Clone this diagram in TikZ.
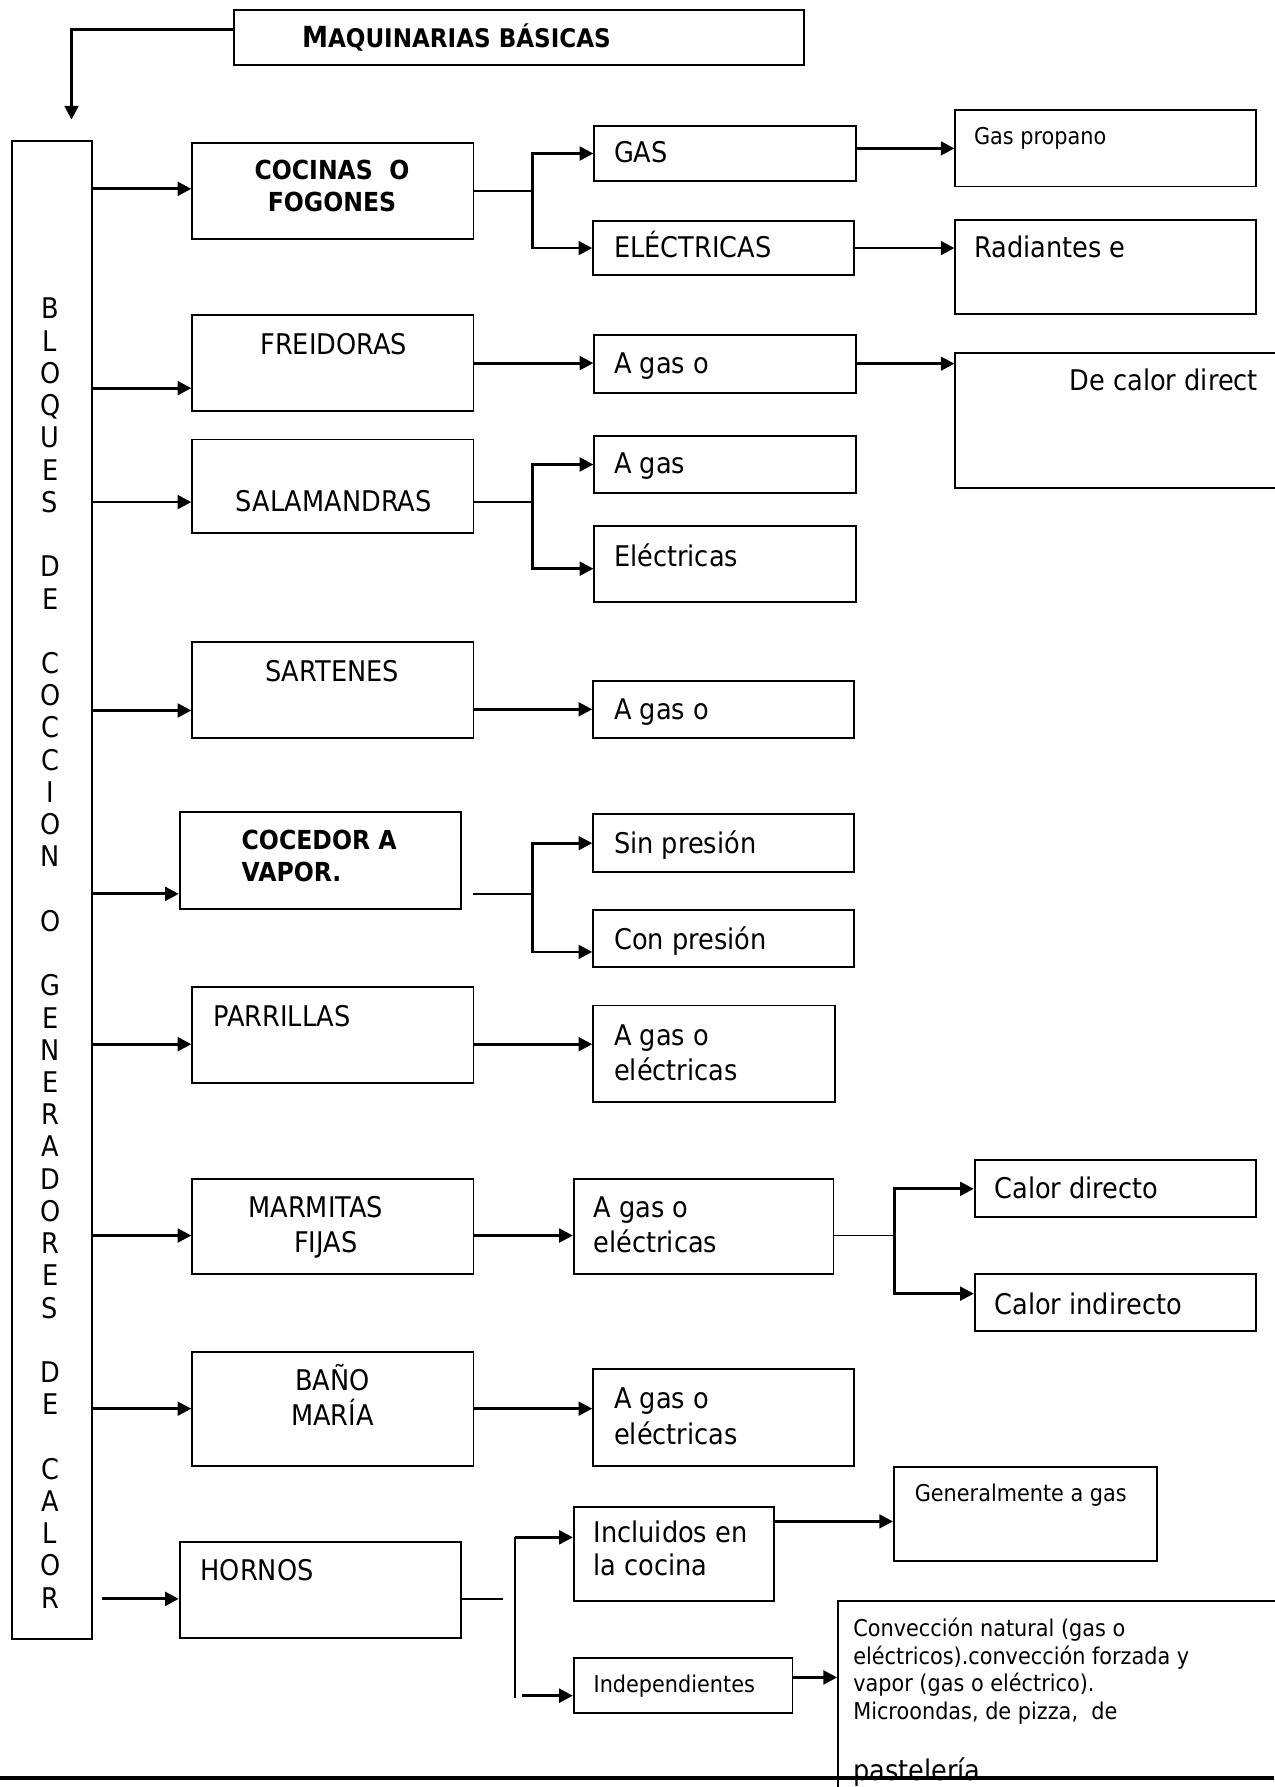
\documentclass[tikz,border=0pt]{standalone}
\usepackage{fontspec}
\setmainfont{DejaVu Sans}[FakeStretch=0.9]
\usetikzlibrary{positioning,arrows.meta,calc}

\begin{document}
\begin{tikzpicture}[
    x=1pt, y=-1pt,
    % boxes and their texts (base = baseline of the last line)
    box/.style={draw=black, line width=1.6pt, anchor=north west, inner sep=0pt},
    txt/.style={anchor=base west, inner sep=0pt, align=left, font=\fontsize{25}{31}\selectfont},
    ctxt/.style={txt, anchor=base, align=center},
    smalltxt/.style={txt, font=\fontsize{20.3}{24.5}\selectfont},
    boldtxt/.style={txt, font=\fontsize{23}{28}\selectfont\bfseries},
    % connectors
    arrow/.style={-{Triangle[length=12pt,width=12pt]}, line width=2.5pt},
    branch/.style={line width=1.5pt}
]

\path[use as bounding box, fill=white] (0,0) rectangle (1119,1569);

% Title and left block
\node[box, minimum width=500pt, minimum height=48pt] (title) at (205,8) {};
\node[txt, font=\bfseries\fontsize{25.5}{30}\selectfont] (titleT) at (265,42)
    {M\fontsize{22.5}{30}\selectfont AQUINARIAS BÁSICAS};
\node[box, minimum width=70pt, minimum height=1315pt] (bloqbox) at (10,123) {};
\node[txt, anchor=base, align=center, font=\fontsize{25}{28.3}\selectfont] (bloq) at (44,1412)
    {B\\L\\O\\Q\\U\\E\\S\\\mbox{}\\D\\E\\\mbox{}\\C\\O\\C\\C\\I\\O\\N\\\mbox{}\\O\\\mbox{}\\
     G\\E\\N\\E\\R\\A\\D\\O\\R\\E\\S\\\mbox{}\\D\\E\\\mbox{}\\C\\A\\L\\O\\R};

% Second column
\node[box, minimum width=247pt, minimum height=84pt] (cocinas) at (168,125) {};
\node[box, minimum width=247pt, minimum height=84pt] (freid) at (168,276) {};
\node[box, minimum width=247pt, minimum height=82pt] (salam) at (168,385) {};
\node[box, minimum width=247pt, minimum height=84pt] (sart) at (168,563) {};
\node[box, minimum width=247pt, minimum height=85pt] (coced) at (157,712) {};
\node[box, minimum width=247pt, minimum height=84pt] (parr) at (168,866) {};
\node[box, minimum width=247pt, minimum height=84pt] (marm) at (168,1034) {};
\node[box, minimum width=247pt, minimum height=100pt] (bano) at (168,1186) {};
\node[box, minimum width=247pt, minimum height=84pt] (hornos) at (157,1353) {};

\node[boldtxt, anchor=base, align=center] (cocinasT) at (291.5,186) {COCINAS\ \ O\\FOGONES};
\node[ctxt] (freidT) at (293,311) {FREIDORAS};
\node[ctxt] (salamT) at (293,449) {SALAMANDRAS};
\node[ctxt] (sartT) at (291.5,598) {SARTENES};
\node[boldtxt] (cocedT) at (212,774) {COCEDOR A\\VAPOR.};
\node[txt] (parrT) at (187,901) {PARRILLAS};
\node[txt] (marmT) at (218,1100) {MARMITAS\\\hspace*{40pt}FIJAS};
\node[ctxt] (banoT) at (292,1252) {BAÑO\\MARÍA};
\node[txt] (hornosT) at (176,1388) {HORNOS};

% Third column
\node[box, minimum width=230pt, minimum height=48pt] (gas) at (521,110) {};
\node[box, minimum width=229pt, minimum height=48pt] (elec) at (520,193) {};
\node[box, minimum width=230pt, minimum height=51pt] (freidG) at (521,293) {};
\node[box, minimum width=230pt, minimum height=50pt] (salamG) at (521,382) {};
\node[box, minimum width=230pt, minimum height=67pt] (salamE) at (521,461) {};
\node[box, minimum width=229pt, minimum height=50pt] (sartG) at (520,597) {};
\node[box, minimum width=229pt, minimum height=51pt] (sinp) at (520,714) {};
\node[box, minimum width=229pt, minimum height=50pt] (conp) at (520,798) {};
\node[box, minimum width=212pt, minimum height=85pt] (parrG) at (520,882) {};
\node[box, minimum width=228pt, minimum height=84pt] (marmG) at (503,1034) {};
\node[box, minimum width=229pt, minimum height=85pt] (banoG) at (520,1201) {};
\node[box, minimum width=176pt, minimum height=83pt] (incl) at (503,1322) {};
\node[box, minimum width=192pt, minimum height=48pt] (indep) at (503,1455) {};

\node[txt] (gasT) at (539,143) {GAS};
\node[txt] (elecT) at (539,226) {ELÉCTRICAS};
\node[txt] (freidGT) at (539,328) {A gas o};
\node[txt] (salamGT) at (539,416) {A gas};
\node[txt] (salamET) at (539,497) {Eléctricas};
\node[txt] (sartGT) at (539,632) {A gas o};
\node[txt] (sinpT) at (539,749) {Sin presión};
\node[txt] (conpT) at (539,834) {Con presión};
\node[txt] (parrGT) at (539,949) {A gas o\\eléctricas};
\node[txt] (marmGT) at (521,1100) {A gas o\\eléctricas};
\node[txt] (banoGT) at (539,1268) {A gas o\\eléctricas};
\node[txt, font=\fontsize{25}{29}\selectfont] (inclT) at (521,1383) {Incluidos en\\la cocina};
\node[smalltxt] (indepT) at (521,1486) {Independientes};

% Fourth column
\node[box, minimum width=264pt, minimum height=67pt] (propano) at (838,96) {};
\node[box, minimum width=264pt, minimum height=83pt] (radiant) at (838,192) {};
\node[box, minimum width=290pt, minimum height=119pt] (direct) at (838,309) {};
\node[box, minimum width=247pt, minimum height=50pt] (caldir) at (855,1018) {};
\node[box, minimum width=247pt, minimum height=50pt] (calind) at (855,1118) {};
\node[box, minimum width=231pt, minimum height=83pt] (genG) at (784,1287) {};
\node[box, minimum width=400pt, minimum height=180pt] (conv) at (735,1405) {};

\node[smalltxt] (propanoT) at (855,127) {Gas propano};
\node[txt] (radiantT) at (855,226) {Radiantes e};
\node[txt] (directT) at (939,343) {De calor direct};
\node[txt] (caldirT) at (873,1052) {Calor directo};
\node[txt] (calindT) at (873,1154) {Calor indirecto};
\node[smalltxt] (genGT) at (803,1318) {Generalmente a gas};
\node[smalltxt] (convT) at (749,1510)
    {Convección natural (gas o\\eléctricos).convección forzada y\\vapor (gas o eléctrico).\\Microondas, de pizza,\ \ de};
\node[txt] (pastT) at (749,1563) {pastelería.};

% Title to left block
\coordinate (tEnd) at ([shift={(17pt,18pt)}]bloqbox.north);
\draw[arrow] ([yshift=7pt]title.west) -| (tEnd);

% Left block to second column
\foreach \b/\dy in {cocinas/2pt, freid/-22pt, salam/-14pt, sart/-18pt, coced/-29.5pt, parr/-8pt, marm/-8pt, bano/0pt}{
  \coordinate (a\b) at ([yshift=\dy]\b.west);
  \draw[arrow] (a\b -| bloqbox.east) -- (a\b);
}
\coordinate (ahornos) at ([yshift=-8pt]hornos.west);
\draw[arrow] ($(bloqbox.east |- ahornos)+(8pt,0)$) -- (ahornos);

% Branches
\coordinate (jC) at ([xshift=51pt]cocinas.east);
\draw[branch] (cocinas.east) -- (jC);
\draw[arrow] (jC) |- (gas.west);
\draw[arrow] (jC) |- (elec.west);

\coordinate (jS) at ([shift={(51pt,-14pt)}]salam.east);
\draw[branch] (jS -| salam.east) -- (jS);
\draw[arrow] (jS) |- (salamG.west);
\draw[arrow] (jS) |- ([yshift=-4pt]salamE.west);

\coordinate (vS) at ([shift={(10pt,-29.5pt)}]coced.east);
\coordinate (jV) at ([shift={(62pt,-29.5pt)}]coced.east);
\draw[branch] (vS) -- (jV);
\draw[arrow] (jV) |- (sinp.west);
\draw[arrow] (jV) |- ([yshift=-12pt]conp.west);

\coordinate (jM) at ([shift={(53pt,-8pt)}]marmG.east);
\draw[branch] (jM -| marmG.east) -- (jM);
\draw[arrow] (jM) |- (caldir.west);
\draw[arrow] (jM) |- ([yshift=8pt]calind.west);

\coordinate (hS) at ([shift={(36pt,-8pt)}]hornos.east);
\draw[branch] ([yshift=-8pt]hornos.east) -- (hS);
\coordinate (hTop) at ([shift={(-51pt,14.5pt)}]incl.west);
\coordinate (hBot) at ([shift={(-51pt,-11pt)}]indep.west);
\draw[branch] (hTop) -- (hBot);
\draw[arrow] (hTop) -- (hTop -| incl.west);
\draw[arrow] ([shift={(6pt,2pt)}]hBot) -- ([yshift=-9pt]indep.west);

% Straight arrows
\draw[arrow] (propano.west -| gas.east) -- (propano.west);
\draw[arrow] (elec.east) -- (elec.east -| radiant.west);
\draw[arrow] (freid.east) -- (freid.east -| freidG.west);
\draw[arrow] (freidG.east) -- (freidG.east -| direct.west);
\draw[arrow] (sartG.west -| sart.east) -- (sartG.west);
\coordinate (aP) at ([yshift=-8pt]parr.east);
\draw[arrow] (aP) -- (aP -| parrG.west);
\coordinate (aM) at ([yshift=-8pt]marm.east);
\draw[arrow] (aM) -- (aM -| marmG.west);
\draw[arrow] (bano.east) -- (bano.east -| banoG.west);
\coordinate (aI) at ([yshift=28.5pt]incl.east);
\draw[arrow] (aI) -- (aI -| genG.west);
\coordinate (aX) at ([yshift=7pt]indep.east);
\draw[arrow] (aX) -- (aX -| conv.west);

% Bottom rule
\draw[line width=4pt] (0,1561) -- (1119,1561);

\end{tikzpicture}
\end{document}
